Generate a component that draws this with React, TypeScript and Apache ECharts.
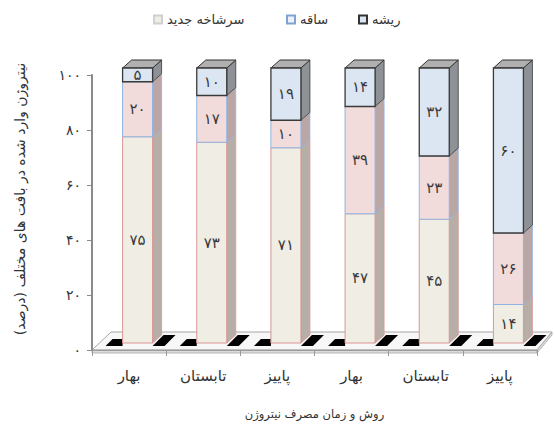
import React, { useEffect, useRef } from "react";
import * as echarts from "echarts";

const categories = ["بهار", "تابستان", "پاییز", "بهار", "تابستان", "پاییز"];
const seriesNames = ["سرشاخه جدید", "ساقه", "ریشه"];
const newShoot = [75, 73, 71, 47, 45, 14];
const stem = [20, 17, 10, 39, 23, 26];
const root = [5, 10, 19, 14, 32, 60];
const yTickLabels = ["۰", "۲۰", "۴۰", "۶۰", "۸۰", "۱۰۰"];
const yAxisTitle = "نیتروژن وارد شده در بافت های مختلف (درصد)";
const xAxisTitle = "روش و زمان مصرف نیتروژن";

const FONT = "DejaVu Sans, Noto Sans, sans-serif";
const faDigits = "۰۱۲۳۴۵۶۷۸۹";
const toFa = (n: number) => String(n).replace(/\d/g, (d) => faDigits[Number(d)]);

const styles = [
  { fill: "#EFEDE4", stroke: "#D99694", side: "#B7AEA8", top: "#B9B4B0", sw: 1, legendBorder: "#D0D0D0" },
  { fill: "#F2DCDB", stroke: "#8EB4E3", side: "#BBA6A6", top: "#B8A8A8", sw: 1, legendBorder: "#7FA3D0" },
  { fill: "#DCE6F2", stroke: "#3A3A3A", side: "#8E9196", top: "#B0B0B0", sw: 1.3, legendBorder: "#333333" },
];
const legendLefts = [148, 281, 353];

export default function App() {
  const ref = useRef<HTMLDivElement>(null);
  useEffect(() => {
    if (!ref.current) return;
    const chart = echarts.init(ref.current, null, { renderer: "svg" });
    const layers = [newShoot, stem, root];
    const bases = layers.map((_, li) =>
      categories.map((__, i) => {
        let s = 0;
        for (let k = 0; k < li; k++) s += layers[k][i];
        return s;
      })
    );
    const FW = 30;
    const OX = 8.5;
    const OY = -7;
    const DX = 9;
    const DY = 8;
    const series = layers.map((vals, li) => {
      const st = styles[li];
      const isTop = li === layers.length - 1;
      return {
        type: "custom",
        name: seriesNames[li],
        z: 2,
        itemStyle: { color: li === 1 ? "#EEF2F8" : st.fill, borderColor: st.legendBorder, borderWidth: 1 },
        data: vals.map((v, i) => [i, bases[li][i], bases[li][i] + v, v]),
        renderItem: (params: any, api: any) => {
          const idx = api.value(0);
          const b = api.value(1);
          const t = api.value(2);
          const v = api.value(3);
          const p0 = api.coord([idx, b]);
          const p1 = api.coord([idx, t]);
          const cx = p0[0] + OX;
          const xl = cx - FW / 2;
          const xr = cx + FW / 2;
          const yb = p0[1] + OY;
          const yt = p1[1] + OY;
          const children: any[] = [];
          if (b === 0) {
            children.push({
              type: "polygon",
              shape: { points: [[xl - 17, yb + 3], [xl - 10, yb - 4], [xl, yb - 4], [xl, yb + 3]] },
              style: { fill: "#000" },
            });
            children.push({
              type: "polygon",
              shape: { points: [[xr, yb + 3], [xr + 12, yb + 3], [xr + 23, yb - 8], [xr + 11, yb - 8]] },
              style: { fill: "#000" },
            });
          }
          children.push({
            type: "polygon",
            shape: { points: [[xr, yt], [xr + DX, yt - DY], [xr + DX, yb - DY], [xr, yb]] },
            style: { fill: st.side, stroke: st.stroke, lineWidth: 0.8 },
          });
          if (isTop) {
            children.push({
              type: "polygon",
              shape: { points: [[xl, yt], [xl + DX, yt - DY], [xr + DX, yt - DY], [xr, yt]] },
              style: { fill: st.top, stroke: "#333", lineWidth: 1 },
            });
          }
          children.push({
            type: "rect",
            shape: { x: xl, y: yt, width: FW, height: yb - yt },
            style: { fill: st.fill, stroke: st.stroke, lineWidth: st.sw },
          });
          children.push({
            type: "text",
            style: {
              text: toFa(v),
              x: cx,
              y: (yt + yb) / 2,
              align: "center",
              verticalAlign: "middle",
              fontSize: 15,
              fontFamily: FONT,
              fill: "#3a3a3a",
            },
          });
          return { type: "group", children };
        },
      };
    });

    const legends = seriesNames.map((n, i) => ({
      data: [n],
      left: legendLefts[i],
      top: 8,
      itemWidth: 8,
      itemHeight: 8,
      itemGap: 10,
      icon: "rect",
      selectedMode: false,
      textStyle: { fontSize: 13, fontFamily: FONT, color: "#333" },
    }));

    const option: any = {
      animation: false,
      backgroundColor: "#fff",
      legend: legends,
      grid: { left: 92, right: 17, top: 75, bottom: 79, containLabel: false },
      xAxis: {
        type: "category",
        data: categories,
        axisLine: { show: true, lineStyle: { color: "#9a9a9a", width: 1 } },
        axisTick: { show: true, length: 6, lineStyle: { color: "#9a9a9a" } },
        axisLabel: { fontSize: 15, fontFamily: FONT, color: "#333", margin: 18 },
        name: xAxisTitle,
        nameLocation: "middle",
        nameGap: 58,
        nameTextStyle: { fontSize: 11.5, fontFamily: FONT, color: "#333" },
      },
      yAxis: {
        type: "value",
        min: 0,
        max: 100,
        interval: 20,
        splitLine: { show: false },
        axisLine: { show: true, lineStyle: { color: "#8a8a8a", width: 2 } },
        axisTick: { show: true, length: 5, lineStyle: { color: "#8a8a8a" } },
        axisLabel: {
          fontSize: 14,
          fontFamily: FONT,
          color: "#333",
          margin: 11,
          formatter: (val: number) => yTickLabels[Math.round(val / 20)],
        },
      },
      graphic: [
        {
          type: "polygon",
          z: 0,
          shape: { points: [[92, 350], [537, 350], [552, 332], [111, 332]] },
          style: { fill: "#f7f7f7", stroke: "#a6a6a6", lineWidth: 1 },
        },
        {
          type: "polygon",
          z: 0,
          shape: { points: [[92, 350], [537, 350], [537, 353], [92, 353]] },
          style: { fill: "#dcdcdc", stroke: "#a6a6a6", lineWidth: 0.8 },
        },
        {
          type: "polygon",
          z: 0,
          shape: { points: [[537, 350], [552, 332], [552, 335], [537, 353]] },
          style: { fill: "#dcdcdc", stroke: "#a6a6a6", lineWidth: 0.8 },
        },
        {
          type: "text",
          x: 20,
          y: 199,
          rotation: Math.PI / 2,
          style: {
            text: yAxisTitle,
            align: "center",
            verticalAlign: "middle",
            fontSize: 14,
            fontFamily: FONT,
            fill: "#333",
          },
        },
      ],
      series,
    };
    chart.setOption(option);
    return () => chart.dispose();
  }, []);
  return (
    <div
      ref={ref}
      style={{ position: "fixed", left: 0, top: 0, width: 554, height: 429, background: "#fff" }}
    />
  );
}
